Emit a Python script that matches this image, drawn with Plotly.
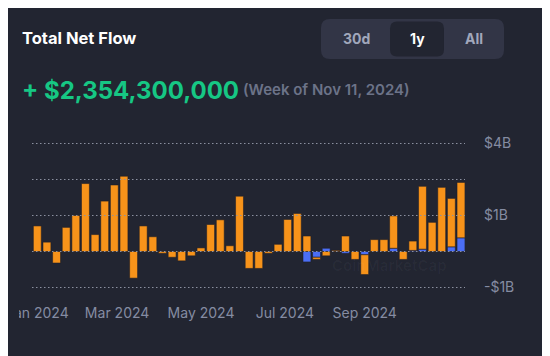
import numpy as np
import pandas as pd
import plotly.graph_objects as go

# ---------------- data ----------------
week_start = pd.date_range("2024-01-08", "2024-11-11", freq="7D")  # 45 weeks

# net flows in billions of USD (orange = BTC ETFs, blue = ETH ETFs)
btc_flow = [0.71, 0.26, -0.32, 0.67, 1.00, 1.85, 0.47, 1.32, 1.80, 2.13,
            -0.74, 0.71, 0.41, -0.05, -0.16, -0.26, -0.12, 0.10, 0.75, 0.88,
            0.16, 1.45, -0.47, -0.47, -0.05, 0.20, 0.89, 1.04, 0.43, -0.06,
            -0.12, 0.03, 0.43, -0.22, -0.55, 0.33, 0.33, 0.90, -0.22, 0.26,
            1.69, 0.81, 1.72, 1.26, 1.51]
eth_flow = [0, 0, 0, 0, 0, 0, 0, 0, 0, 0,
            0, 0, 0, 0, 0, 0, 0, 0, 0, 0,
            0, 0, 0, 0, 0, 0, 0, 0, -0.29, -0.16,
            0.09, 0, -0.05, 0, -0.09, 0, 0, 0.09, 0, 0.03,
            0.065, 0, 0, 0.13, 0.38]

tick_dates = ["2024-01-08", "2024-03-06", "2024-05-06", "2024-07-06", "2024-09-02"]
tick_labels = ["Jan 2024", "Mar 2024", "May 2024", "Jul 2024", "Sep 2024"]
y_ticks = [-1, 0, 1, 2, 4]
y_tick_labels = ["-$1B", "", "$1B", "", "$4B"]

headline_value = 2354300000
headline_week = "Nov 11, 2024"
range_buttons = ["30d", "1y", "All"]
selected_range = "1y"

# ---------------- styles ----------------
BG = "#222531"
ORANGE = "#F7931A"
BLUE = "#4b6ef5"
GRID = "#8b90a0"
AXIS_TXT = "#858ca2"
FONT = "Inter"

W, H = 550, 356
OFF = 8                          # page offset of the figure inside the window
SL, SR, ST, SB = 32, 465, 135, 295   # plot area in window pixels
L, R, T, B = SL - OFF, SR - OFF, ST - OFF, SB - OFF


def px2x(px):
    return (px - SL) / (SR - SL)


def py2y(py):
    return (SB - py) / (SB - ST)


def f(v):
    """symmetric log (base 2) scale, linear inside [-1B, 1B]"""
    v = np.asarray(v, dtype=float)
    a = np.abs(v)
    return np.where(a <= 1, v, np.sign(v) * (1 + np.log2(np.maximum(a, 1e-12))))


btc = np.array(btc_flow)
eth = np.array(eth_flow)
total = btc + eth
same = (np.sign(btc) == np.sign(eth)) & (eth != 0)
eth_disp = f(eth)
btc_disp = np.where(same, f(total) - f(eth), f(btc))

bar_w = 5.75 * 86400000

fig = go.Figure()
fig.add_trace(go.Bar(x=week_start, y=eth_disp, width=bar_w, marker=dict(
    color=BLUE, line=dict(color="rgba(30,30,40,0.55)", width=1)), name="ETH"))
fig.add_trace(go.Bar(x=week_start, y=btc_disp, width=bar_w, marker=dict(
    color=ORANGE, line=dict(color="rgba(30,30,40,0.55)", width=1)), name="BTC"))

shapes = []
# dotted grid lines drawn above bars
for v in f(y_ticks):
    shapes.append(dict(type="line", xref="paper", yref="y", x0=0, x1=1, y0=float(v), y1=float(v),
                       line=dict(color=GRID, width=1, dash="1.5px,2.5px"), layer="above"))


def rrect(x0, y0, x1, y1, r):
    pts = [
        ("M", [(x0 + r, y0)]), ("L", [(x1 - r, y0)]), ("Q", [(x1, y0), (x1, y0 + r)]),
        ("L", [(x1, y1 - r)]), ("Q", [(x1, y1), (x1 - r, y1)]), ("L", [(x0 + r, y1)]),
        ("Q", [(x0, y1), (x0, y1 - r)]), ("L", [(x0, y0 + r)]), ("Q", [(x0, y0), (x0 + r, y0)]),
    ]
    s = ""
    for cmd, ps in pts:
        s += cmd + " " + " ".join(f"{px2x(a):.5f},{py2y(b):.5f}" for a, b in ps) + " "
    return s + "Z"


shapes.append(dict(type="path", xref="paper", yref="paper", path=rrect(321, 19, 504, 59, 9),
                   fillcolor="#323546", line=dict(width=0), layer="above"))
shapes.append(dict(type="path", xref="paper", yref="paper", path=rrect(390, 21.5, 444, 56.5, 7),
                   fillcolor=BG, line=dict(width=0), layer="above"))
# clip the first x label at the container edge
shapes.append(dict(type="rect", xref="paper", yref="paper", x0=px2x(-5), x1=px2x(19),
                   y0=py2y(340), y1=py2y(298), fillcolor=BG, line=dict(width=0), layer="above"))

annotations = [
    dict(text="Total Net Flow", x=px2x(20), y=py2y(38), xanchor="left", yanchor="middle",
         font=dict(family=FONT, size=16.5, color="#ffffff", weight=700)),
    dict(text=f"+ ${headline_value:,}", x=px2x(20), y=py2y(90), xanchor="left", yanchor="middle",
         font=dict(family=FONT, size=24, color="#16c784", weight=700)),
    dict(text=f"(Week of {headline_week})", x=px2x(241), y=py2y(89.5), xanchor="left", yanchor="middle",
         font=dict(family=FONT, size=15, color="#6c7388", weight=600)),
    dict(text="CoinMarketCap", x=px2x(389), y=py2y(265), xanchor="center", yanchor="middle",
         font=dict(family=FONT, size=15, color="rgba(255,255,255,0.03)", weight=700)),
]
tab_centers = [356, 417, 474]
for lbl, cx in zip(range_buttons, tab_centers):
    annotations.append(dict(text=lbl, x=px2x(cx), y=py2y(39), xanchor="center", yanchor="middle",
                            font=dict(family=FONT, size=14,
                                      color="#ffffff" if lbl == selected_range else "#a1a7bb",
                                      weight=700)))
for a in annotations:
    a.update(xref="paper", yref="paper", showarrow=False)

fig.update_layout(
    template="none",
    width=W, height=H,
    margin=dict(l=L, r=W - R, t=T, b=H - B, pad=0, autoexpand=False),
    paper_bgcolor=BG, plot_bgcolor=BG,
    barmode="relative", showlegend=False,
    font=dict(family=FONT, color=AXIS_TXT),
    shapes=shapes, annotations=annotations,
    xaxis=dict(type="date", range=["2024-01-04 03:30", "2024-11-13 22:00"], automargin=False,
               tickvals=tick_dates, ticktext=tick_labels, showgrid=False, zeroline=False,
               showline=False, ticks="", tickfont=dict(family=FONT, size=14, color=AXIS_TXT),
               ticklabelstandoff=8, ticklabeloverflow="allow"),
    yaxis=dict(side="right", range=[(251.5 - SB) / 36, (251.5 - ST) / 36], automargin=False,
               tickvals=[float(v) for v in f(y_ticks)], ticktext=y_tick_labels,
               showgrid=False, zeroline=False, showline=False, ticks="",
               tickfont=dict(family=FONT, size=14, color=AXIS_TXT), ticklabelstandoff=18,
               ticklabeloverflow="allow"),
)

fig.write_html("out.html")
